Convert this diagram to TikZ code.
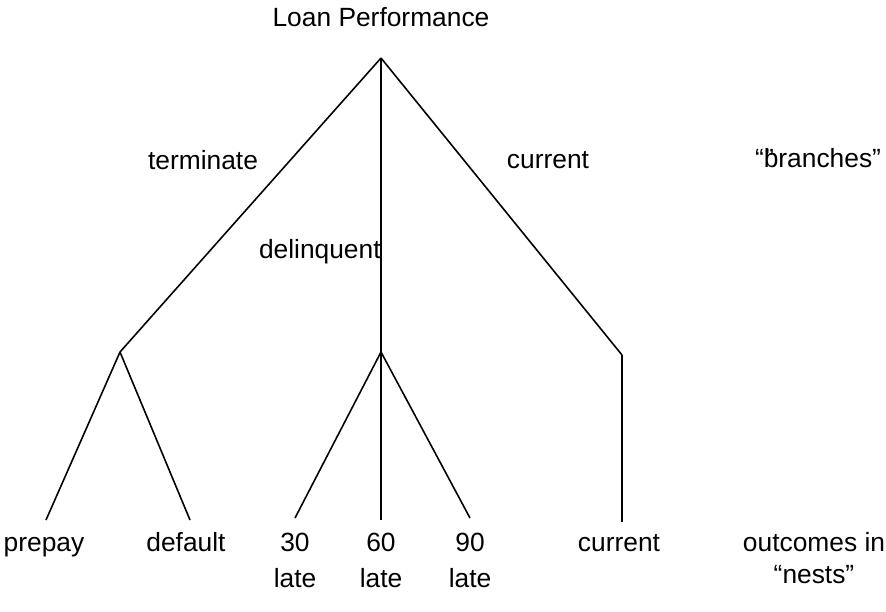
\documentclass[tikz,border=0pt]{standalone}
\usepackage{fontspec}
\setmainfont{Liberation Sans}

\tikzset{
	branch/.style={line width=0.9pt},
	lbl/.style={inner sep=0pt, font=\fontsize{15}{20.5}\selectfont},
	leaf/.style={lbl, anchor=north, align=center}
}

\begin{document}
\begin{tikzpicture}[x=0.02cm, y=-0.02cm]
	\useasboundingbox (0,0) rectangle (886,612);
	% branch points
	\coordinate (root) at (381,58);
	\coordinate (term) at (120,352);
	\coordinate (delq) at (381,352);
	\coordinate (curr) at (622,355);
	% ends of the nest lines
	\coordinate (prepayend) at (46,520);
	\coordinate (defaultend) at (190,520);
	\coordinate (late30end) at (295,518);
	\coordinate (late60end) at (381,520);
	\coordinate (late90end) at (470,518);
	\coordinate (currentend) at (622,522);

	\node [lbl] (title) at (381,17) {Loan Performance};

	\draw [branch] (root) -- (term);
	\draw [branch] (root) -- (delq);
	\draw [branch] (root) -- (curr);
	\draw [branch] (term) -- (prepayend);
	\draw [branch] (term) -- (defaultend);
	\draw [branch] (delq) -- (late30end);
	\draw [branch] (delq) -- (late60end);
	\draw [branch] (delq) -- (late90end);
	\draw [branch] (curr) -- (currentend);

	\node [lbl] (terminate) at (203,160) {terminate};
	\node [lbl, anchor=east] (delinquent) at (381,252) {delinquent};
	\node [lbl] (current) at (548,160) {current};
	\node [lbl] (branches) at (818,158) {“\rlap{\kern0.05em"}branches”};

	% nests
	\node [leaf] (prepay) at (44,526) {\strut prepay};
	\node [leaf] (default) at (186,526) {\strut default};
	\node [leaf] (late30) at (295,526) {\strut 30\\late};
	\node [leaf] (late60) at (381,526) {\strut 60\\late};
	\node [leaf] (late90) at (470,526) {\strut 90\\late};
	\node [leaf] (currentleaf) at (619,526) {\strut current};
	\node [leaf] (outcomes) at (814,526) {\strut outcomes in\\[-0.08cm]“nests”};
\end{tikzpicture}
\end{document}
